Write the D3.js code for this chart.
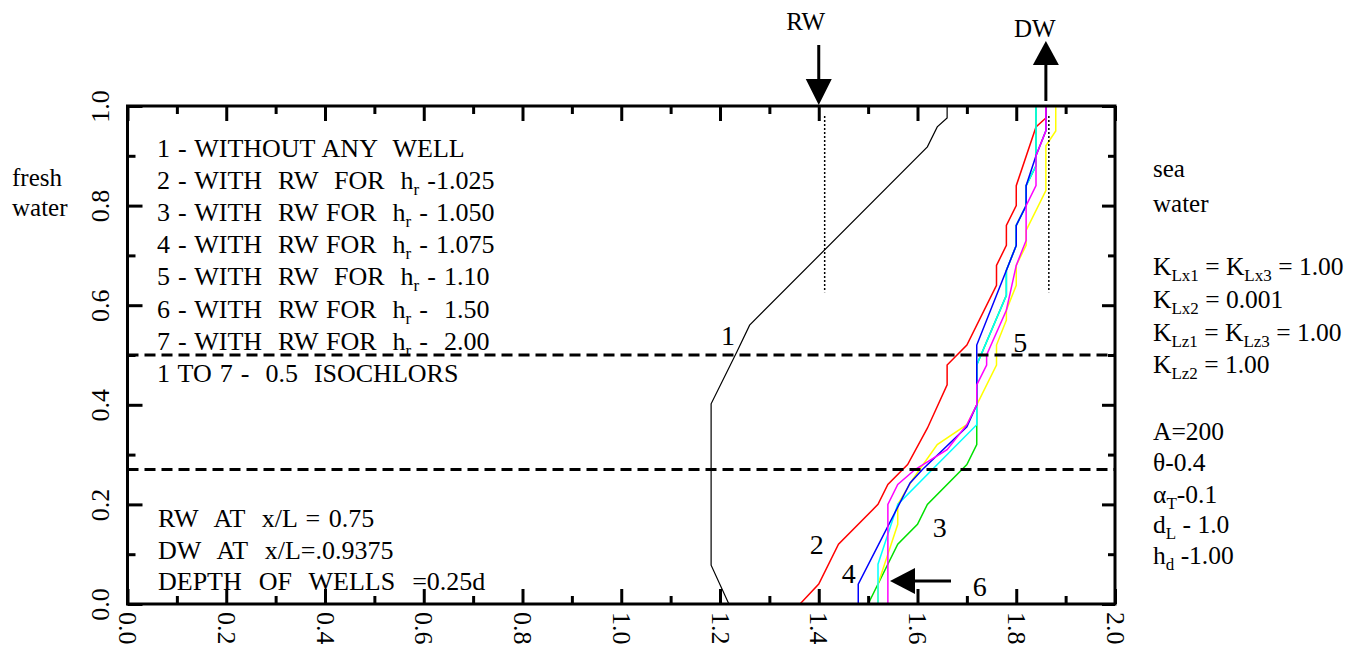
<!DOCTYPE html>
<html>
<head>
<meta charset="utf-8">
<script src="https://cdn.jsdelivr.net/npm/d3@7"></script>
<style>
  body { margin: 0; background: #fff; }
  svg { display: block; font-family: "Liberation Serif", "Times New Roman", serif; }
  text { white-space: pre; }
</style>
</head>
<body>
<svg id="chart" width="1359" height="651"></svg>
<script>
// isochlor curves, [x, y] pairs
const curve1 = [[1.66, 1.0], [1.66, 0.976], [1.64, 0.958], [1.62, 0.918], [1.26, 0.56], [1.234, 0.506], [1.182, 0.402], [1.182, 0.078], [1.218, 0.0]];
const curve2 = [[1.362, 0], [1.40, 0.04], [1.44, 0.12], [1.52, 0.20], [1.54, 0.24], [1.58, 0.28], [1.62, 0.353], [1.66, 0.44], [1.66, 0.48], [1.70, 0.52], [1.76, 0.64], [1.76, 0.68], [1.78, 0.72], [1.78, 0.76], [1.80, 0.80], [1.80, 0.84], [1.84, 0.958], [1.86, 0.976], [1.86, 1.0]];
const curve3 = [[1.50, 0], [1.56, 0.12], [1.60, 0.16], [1.62, 0.20], [1.70, 0.28], [1.72, 0.32], [1.72, 0.36], [1.72, 0.48], [1.78, 0.62], [1.78, 0.67], [1.80, 0.72], [1.80, 0.76], [1.82, 0.80], [1.82, 0.84], [1.84, 0.88], [1.84, 1.0]];
const curve4 = [[1.48, 0], [1.48, 0.04], [1.585, 0.243], [1.61, 0.27], [1.70, 0.356], [1.72, 0.40], [1.72, 0.52], [1.80, 0.72], [1.80, 0.76], [1.82, 0.80], [1.82, 0.84], [1.84, 0.90], [1.86, 0.95], [1.86, 1.0]];
const curve5 = [[1.52, 0], [1.52, 0.04], [1.56, 0.16], [1.56, 0.20], [1.59, 0.25], [1.64, 0.32], [1.70, 0.36], [1.72, 0.40], [1.76, 0.48], [1.76, 0.52], [1.78, 0.57], [1.78, 0.59], [1.80, 0.64], [1.80, 0.68], [1.82, 0.72], [1.82, 0.75], [1.86, 0.83], [1.86, 0.92], [1.88, 0.95], [1.88, 1.0]];
const curve6 = [[1.54, 0], [1.54, 0.20], [1.56, 0.24], [1.595, 0.27], [1.66, 0.31], [1.70, 0.36], [1.72, 0.40], [1.72, 0.44], [1.74, 0.48], [1.74, 0.50], [1.78, 0.59], [1.80, 0.68], [1.82, 0.73], [1.82, 0.80], [1.84, 0.84], [1.84, 0.90], [1.86, 0.95], [1.86, 1.0]];
const curve7 = [[1.52, 0], [1.52, 0.08], [1.56, 0.20], [1.63, 0.27], [1.72, 0.36], [1.72, 0.48], [1.78, 0.62], [1.78, 0.67], [1.80, 0.72], [1.80, 0.76], [1.82, 0.80], [1.82, 0.84], [1.84, 0.88], [1.84, 1.0]];

const curves = [
  { pts: curve1, color: "#000000", w: 1.2 },
  { pts: curve2, color: "#ff0000", w: 1.5 },
  { pts: curve3, color: "#00e000", w: 1.5 },
  { pts: curve5, color: "#ffff00", w: 1.5 },
  { pts: curve7, color: "#00ffff", w: 1.5 },
  { pts: curve4, color: "#0000ff", w: 1.5 },
  { pts: curve6, color: "#ff00ff", w: 1.5 }
];

const xMajor = [0, 0.2, 0.4, 0.6, 0.8, 1.0, 1.2, 1.4, 1.6, 1.8, 2.0];
const xMinor = [0.1, 0.3, 0.5, 0.7, 0.9, 1.1, 1.3, 1.5, 1.7, 1.9];
const yMajor = [0, 0.2, 0.4, 0.6, 0.8, 1.0];
const yMinor = [0.1, 0.3, 0.5, 0.7, 0.9];

const isochlorLevels = [0.5, 0.27];
const wellLines = [[1.412, 0.98, 0.626], [1.866, 0.98, 0.626]];
const rwX = 1.40, dwX = 1.86;

const curveLabels = [["1", 1.216, 0.52], ["5", 1.808, 0.506], ["2", 1.396, 0.10], ["3", 1.645, 0.135], ["4", 1.461, 0.042], ["6", 1.726, 0.016]];

const legendLines = [
  "1 - WITHOUT ANY  WELL",
  "2 - WITH  RW  FOR  h_{r} -1.025",
  "3 - WITH  RW FOR  h_{r} - 1.050",
  "4 - WITH  RW FOR  h_{r} - 1.075",
  "5 - WITH  RW  FOR  h_{r} - 1.10",
  "6 - WITH  RW FOR  h_{r} -  1.50",
  "7 - WITH  RW FOR  h_{r} -  2.00",
  "1 TO 7 -  0.5  ISOCHLORS"
];
const wellNotes = ["RW  AT  x/L = 0.75", "DW  AT  x/L=.0.9375", "DEPTH  OF  WELLS  =0.25d"];
const paramLines = [
  ["K_{Lx1} = K_{Lx3} = 1.00", 275],
  ["K_{Lx2} = 0.001", 308],
  ["K_{Lz1} = K_{Lz3} = 1.00", 341],
  ["K_{Lz2} = 1.00", 373],
  ["A=200", 440],
  ["θ-0.4", 471],
  ["α_{T}-0.1", 503],
  ["d_{L} - 1.0", 533],
  ["h_{d} -1.00", 564]
];

const svg = d3.select("#chart");
const x = d3.scaleLinear().domain([0, 2]).range([127.5, 1115]);
const y = d3.scaleLinear().domain([0, 1]).range([604, 106]);
const FS = 25;

// text with _{sub} markup
function richText(str, px, py, size, wordGap) {
  const t = svg.append("text").attr("x", px).attr("y", py)
    .style("font-size", size + "px");
  if (wordGap) t.style("word-spacing", wordGap + "px");
  const parts = str.split(/_\{([^}]*)\}/);
  let shifted = false;
  parts.forEach((p, i) => {
    if (!p) return;
    const ts = t.append("tspan").text(p);
    if (i % 2 === 1) {
      ts.attr("dy", 6).style("font-size", Math.round(size * 0.66) + "px");
      shifted = true;
    } else if (shifted) {
      ts.attr("dy", -6);
      shifted = false;
    }
  });
  return t;
}

// curves
const line = d3.line().x(d => x(d[0])).y(d => y(d[1]));
svg.append("g").selectAll("path")
  .data(curves)
  .enter()
  .append("path")
  .attr("d", d => line(d.pts))
  .attr("fill", "none")
  .attr("stroke", d => d.color)
  .attr("stroke-width", d => d.w);

// 0.5 isochlor dashed lines
svg.selectAll(".iso")
  .data(isochlorLevels)
  .enter()
  .append("line")
  .attr("x1", x(0)).attr("x2", x(2))
  .attr("y1", d => y(d)).attr("y2", d => y(d))
  .attr("stroke", "#000").attr("stroke-width", 3)
  .attr("stroke-dasharray", "11,6");

// dotted well lines
svg.selectAll(".well")
  .data(wellLines)
  .enter()
  .append("line")
  .attr("x1", d => x(d[0])).attr("x2", d => x(d[0]))
  .attr("y1", d => y(d[1])).attr("y2", d => y(d[2]))
  .attr("stroke", "#000").attr("stroke-width", 1.5)
  .attr("stroke-dasharray", "2,2");

// axes
function cleanAxis(g) {
  g.attr("font-family", null).attr("font-size", null);
  g.select(".domain").remove();
  g.selectAll("line").attr("stroke", "#000").attr("stroke-width", 3);
}

const bottom = svg.append("g").attr("transform", "translate(0," + y(0) + ")")
  .call(d3.axisBottom(x).tickValues(xMajor).tickSize(-15).tickFormat(d3.format(".1f")));
cleanAxis(bottom);
bottom.selectAll("text")
  .attr("transform", "rotate(90)")
  .attr("x", 8).attr("y", 0).attr("dy", "0.34em")
  .attr("text-anchor", "start")
  .style("font-size", "26px");
svg.append("g").attr("transform", "translate(0," + y(0) + ")")
  .call(d3.axisBottom(x).tickValues(xMinor).tickSize(-8).tickFormat(""))
  .call(cleanAxis);

svg.append("g").attr("transform", "translate(0," + y(1) + ")")
  .call(d3.axisTop(x).tickValues(xMajor).tickSize(-15).tickFormat(""))
  .call(cleanAxis);
svg.append("g").attr("transform", "translate(0," + y(1) + ")")
  .call(d3.axisTop(x).tickValues(xMinor).tickSize(-8).tickFormat(""))
  .call(cleanAxis);

const left = svg.append("g").attr("transform", "translate(" + x(0) + ",0)")
  .call(d3.axisLeft(y).tickValues(yMajor).tickSize(-15).tickFormat(d3.format(".1f")));
cleanAxis(left);
left.selectAll("text")
  .attr("transform", "rotate(-90)")
  .attr("x", 0).attr("y", -27).attr("dy", "0.34em")
  .attr("text-anchor", "middle")
  .style("font-size", "26px");
svg.append("g").attr("transform", "translate(" + x(0) + ",0)")
  .call(d3.axisLeft(y).tickValues(yMinor).tickSize(-8).tickFormat(""))
  .call(cleanAxis);

svg.append("g").attr("transform", "translate(" + x(2) + ",0)")
  .call(d3.axisRight(y).tickValues(yMajor).tickSize(-13).tickFormat(""))
  .call(cleanAxis);
svg.append("g").attr("transform", "translate(" + x(2) + ",0)")
  .call(d3.axisRight(y).tickValues(yMinor).tickSize(-7).tickFormat(""))
  .call(cleanAxis);

// frame
svg.append("rect")
  .attr("x", x(0)).attr("y", y(1))
  .attr("width", x(2) - x(0)).attr("height", y(0) - y(1))
  .attr("fill", "none").attr("stroke", "#000").attr("stroke-width", 3);

// RW arrow (down) and DW arrow (up)
const rx = x(rwX), dx = x(dwX);
svg.append("line").attr("x1", rx).attr("x2", rx).attr("y1", 45).attr("y2", 82)
  .attr("stroke", "#000").attr("stroke-width", 3);
svg.append("path").attr("d", `M${rx - 13},79 L${rx + 13},79 L${rx},105 Z`).attr("fill", "#000");
svg.append("text").attr("x", rx - 13).attr("y", 30).attr("text-anchor", "middle")
  .style("font-size", FS + "px").text("RW");

svg.append("line").attr("x1", dx).attr("x2", dx).attr("y1", 101).attr("y2", 62)
  .attr("stroke", "#000").attr("stroke-width", 3);
svg.append("path").attr("d", `M${dx - 13},65 L${dx + 13},65 L${dx},41 Z`).attr("fill", "#000");
svg.append("text").attr("x", dx - 11).attr("y", 37).attr("text-anchor", "middle")
  .style("font-size", FS + "px").text("DW");

// arrow pointing at curve 6
svg.append("line").attr("x1", 951).attr("x2", 912).attr("y1", 581).attr("y2", 581)
  .attr("stroke", "#000").attr("stroke-width", 3);
svg.append("path").attr("d", "M915,568 L915,594 L890,581 Z").attr("fill", "#000");

// curve numbers
svg.selectAll(".clab")
  .data(curveLabels)
  .enter()
  .append("text")
  .attr("x", d => x(d[1])).attr("y", d => y(d[2]))
  .attr("text-anchor", "middle")
  .style("font-size", "28px")
  .text(d => d[0]);

// legend
legendLines.forEach((s, i) => richText(s, 157, 157 + i * 32.1, 26, 1.5));
wellNotes.forEach((s, i) => richText(s, 158, 527 + i * 31.5, 26, 2));

// side labels
richText("fresh", 12, 186, FS);
richText("water", 12, 216, FS);
richText("sea", 1153, 177, FS);
richText("water", 1153, 212, FS);
paramLines.forEach(p => richText(p[0], 1153, p[1], 25.5));
</script>
</body>
</html>
